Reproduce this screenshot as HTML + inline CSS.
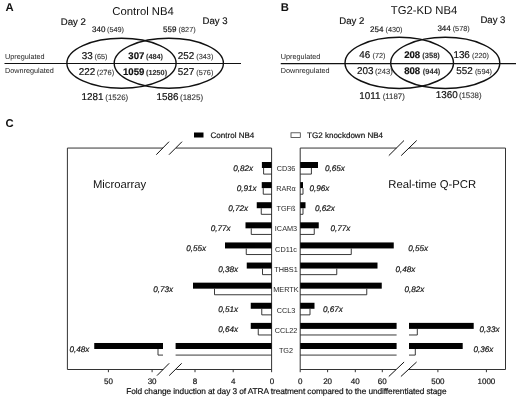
<!DOCTYPE html>
<html lang="en"><head><meta charset="utf-8"><title>Figure</title>
<style>
html,body{margin:0;padding:0;background:#fff;}
svg{display:block;will-change:transform;opacity:0.999;}
text{font-family:"Liberation Sans", Arial, sans-serif;fill:#111;stroke:#111;stroke-width:0.18px;text-rendering:geometricPrecision;}
.b{font-weight:bold;}
.i{font-style:italic;font-size:8.15px;}
.g{font-size:7.3px;fill:#262626;stroke:none;text-anchor:middle;}
.t{font-size:8px;text-anchor:middle;}
.n{font-size:9.2px;}
.s{font-size:7.3px;fill:#333;stroke:#333;stroke-width:0.1px;}
.ln{stroke:#333;stroke-width:1;fill:none;}
.wb{stroke:#3a3a3a;stroke-width:0.8;fill:#fff;}
.sl{stroke:#111;stroke-width:1;fill:none;}
.wbar{stroke:#222;stroke-width:0.9;fill:none;}
.el{stroke:#111;stroke-width:1.4;fill:none;}
</style></head>
<body>
<svg width="520" height="402" viewBox="0 0 520 402">
<rect width="520" height="402" fill="#fff"/>
<text x="5.5" y="10.5" class="b" font-size="11.3" style="stroke:none">A</text>
<text x="112.3" y="14.8" font-size="11.3" style="stroke:none">Control NB4</text>
<text x="60.75" y="24.5" font-size="9.6">Day 2</text>
<text x="202.5" y="24.3" font-size="9.6">Day 3</text>
<text x="92" y="32" class="n" style="font-size:8.0px">340</text>
<text x="107" y="32" class="s" style="font-size:7.3px">(549)</text>
<text x="163" y="32.2" class="n" style="font-size:8.0px">559</text>
<text x="178.6" y="32.2" class="s" style="font-size:7.3px">(827)</text>
<line x1="4.5" y1="63.5" x2="241" y2="63.5" stroke="#111" stroke-width="1.1"/>
<ellipse cx="121.5" cy="63.2" rx="54.6" ry="25" class="el"/>
<ellipse cx="168.8" cy="63.2" rx="54.6" ry="25" class="el"/>
<text x="5" y="58.8" font-size="7.25" style="stroke:none;fill:#222">Upregulated</text>
<text x="5" y="72.5" font-size="7.25" style="stroke:none;fill:#222">Downregulated</text>
<text x="81.75" y="58.8" class="n" style="font-size:9.9px">33</text>
<text x="94.5" y="58.8" class="s" style="font-size:7.3px">(65)</text>
<text x="78.75" y="74.5" class="n" style="font-size:9.9px">222</text>
<text x="96.7" y="74.5" class="s" style="font-size:7.5px">(276)</text>
<text x="128.3" y="58.5" class="n b" style="font-size:9.6px">307</text>
<text x="146" y="58.5" class="s b" style="font-size:7.3px">(484)</text>
<text x="123" y="74.8" class="n b" style="font-size:9.6px">1059</text>
<text x="146" y="74.8" class="s b" style="font-size:7.3px">(1250)</text>
<text x="177.8" y="58.5" class="n" style="font-size:9.9px">252</text>
<text x="196.3" y="58.5" class="s" style="font-size:7.3px">(343)</text>
<text x="177.8" y="74.8" class="n" style="font-size:9.9px">527</text>
<text x="196.3" y="74.8" class="s" style="font-size:7.3px">(576)</text>
<text x="81.6" y="99.8" class="n" style="font-size:9.9px">1281</text>
<text x="105.3" y="99.8" class="s" style="font-size:7.95px">(1526)</text>
<text x="156.5" y="99.8" class="n" style="font-size:9.9px">1586</text>
<text x="180" y="99.8" class="s" style="font-size:8.0px">(1825)</text>
<text x="280.75" y="10.5" class="b" font-size="11.3" style="stroke:none">B</text>
<text x="390.8" y="14.2" font-size="11.3" style="stroke:none">TG2-KD NB4</text>
<text x="339.25" y="23.6" font-size="9.6">Day 2</text>
<text x="480.4" y="23.3" font-size="9.6">Day 3</text>
<text x="370" y="31.5" class="n" style="font-size:8.0px">254</text>
<text x="385.5" y="31.5" class="s" style="font-size:7.3px">(430)</text>
<text x="437.4" y="31.2" class="n" style="font-size:8.0px">344</text>
<text x="452.7" y="31.2" class="s" style="font-size:7.3px">(578)</text>
<line x1="280.75" y1="63.6" x2="516" y2="63.6" stroke="#111" stroke-width="1.1"/>
<ellipse cx="399.25" cy="62.9" rx="54.25" ry="25.6" class="el"/>
<ellipse cx="445.25" cy="62.9" rx="54.55" ry="25.6" class="el"/>
<text x="280.75" y="59.2" font-size="7.25" style="stroke:none;fill:#222">Upregulated</text>
<text x="280.75" y="72.5" font-size="7.25" style="stroke:none;fill:#222">Downregulated</text>
<text x="359.25" y="58" class="n" style="font-size:9.9px">46</text>
<text x="372.5" y="58" class="s" style="font-size:7.3px">(72)</text>
<text x="357" y="73.75" class="n" style="font-size:9.9px">203</text>
<text x="375.0" y="73.75" class="s" style="font-size:7.6px">(243)</text>
<text x="404.2" y="57.9" class="n b" style="font-size:9.6px">208</text>
<text x="422.3" y="57.9" class="s b" style="font-size:7.5px">(358)</text>
<text x="404.2" y="73.5" class="n b" style="font-size:9.6px">808</text>
<text x="422.8" y="73.5" class="s b" style="font-size:7.5px">(944)</text>
<text x="453.4" y="57.9" class="n" style="font-size:9.9px">136</text>
<text x="472" y="57.9" class="s" style="font-size:7.3px">(220)</text>
<text x="456.2" y="73.5" class="n" style="font-size:9.9px">552</text>
<text x="474.9" y="73.5" class="s" style="font-size:7.3px">(594)</text>
<text x="359.25" y="98.5" class="n" style="font-size:9.9px">1011</text>
<text x="382.7" y="98.5" class="s" style="font-size:7.85px">(1187)</text>
<text x="435.7" y="98.3" class="n" style="font-size:9.9px">1360</text>
<text x="458.9" y="98.3" class="s" style="font-size:7.85px">(1538)</text>
<text x="5.5" y="127" class="b" font-size="11.3" style="stroke:none">C</text>
<rect x="194" y="132.5" width="9.5" height="5" fill="#000"/>
<text x="210.5" y="137.6" font-size="8.05">Control NB4</text>
<rect x="291" y="132.8" width="9.3" height="4.6" class="wb"/>
<text x="307" y="137.6" font-size="8.05">TG2 knockdown NB4</text>
<text x="93" y="188" font-size="11.25" style="stroke:none">Microarray</text>
<text x="388.3" y="188" font-size="11.3" style="stroke:none">Real-time Q-PCR</text>
<line x1="67.4" y1="148.05" x2="163" y2="148.05" class="ln"/>
<line x1="176" y1="148.05" x2="271.6" y2="148.05" class="ln"/>
<line x1="67.4" y1="148.05" x2="67.4" y2="369.5" class="ln"/>
<line x1="67.4" y1="369.5" x2="163.3" y2="369.5" class="ln"/>
<line x1="176.3" y1="369.5" x2="271.6" y2="369.5" class="ln"/>
<line x1="271.6" y1="148.05" x2="271.6" y2="372.2" class="ln"/>
<line x1="300.2" y1="148.05" x2="396.5" y2="148.05" class="ln"/>
<line x1="409" y1="148.05" x2="505.5" y2="148.05" class="ln"/>
<line x1="300.2" y1="148.05" x2="300.2" y2="372.2" class="ln"/>
<line x1="300.2" y1="369.5" x2="396" y2="369.5" class="ln"/>
<line x1="409" y1="369.5" x2="505.5" y2="369.5" class="ln"/>
<line x1="505.5" y1="148.05" x2="505.5" y2="369.5" class="ln"/>
<line x1="156.3" y1="154.7" x2="169" y2="141.7" class="sl"/>
<line x1="169" y1="154.7" x2="182" y2="141.7" class="sl"/>
<line x1="157" y1="375.6" x2="169.2" y2="363.3" class="sl"/>
<line x1="169.2" y1="375.6" x2="181.7" y2="363.3" class="sl"/>
<line x1="388.8" y1="155.6" x2="404.0" y2="140.5" class="sl"/>
<line x1="401.2" y1="155.6" x2="416.7" y2="140.5" class="sl"/>
<line x1="388.8" y1="376.5" x2="404.1" y2="362" class="sl"/>
<line x1="400.9" y1="376.5" x2="416.6" y2="362" class="sl"/>
<line x1="108.4" y1="369.5" x2="108.4" y2="372.2" class="ln"/>
<text x="108.4" y="383.6" class="t">50</text>
<line x1="152.1" y1="369.5" x2="152.1" y2="372.2" class="ln"/>
<text x="152.1" y="383.6" class="t">30</text>
<line x1="195" y1="369.5" x2="195" y2="372.2" class="ln"/>
<text x="195" y="383.6" class="t">8</text>
<line x1="233.2" y1="369.5" x2="233.2" y2="372.2" class="ln"/>
<text x="233.2" y="383.6" class="t">4</text>
<text x="272" y="383.6" class="t">0</text>
<text x="300.2" y="383.6" class="t">0</text>
<line x1="327.6" y1="369.5" x2="327.6" y2="372.2" class="ln"/>
<text x="327.6" y="383.6" class="t">20</text>
<line x1="355.3" y1="369.5" x2="355.3" y2="372.2" class="ln"/>
<text x="355.3" y="383.6" class="t">40</text>
<line x1="382.3" y1="369.5" x2="382.3" y2="372.2" class="ln"/>
<text x="382.3" y="383.6" class="t">60</text>
<line x1="437.9" y1="369.5" x2="437.9" y2="372.2" class="ln"/>
<text x="437.9" y="383.6" class="t">500</text>
<line x1="486.4" y1="369.5" x2="486.4" y2="372.2" class="ln"/>
<text x="486.4" y="383.6" class="t">1000</text>
<text x="126.2" y="394.2" font-size="8.3" textLength="320.3" lengthAdjust="spacing">Fold change induction at day 3 of ATRA treatment compared to the undifferentiated stage</text>
<rect x="261.90" y="162.00" width="9.70" height="6.00" fill="#000"/>
<path class="wbar" d="M263.60 168.00 V174.10 H271.60"/>
<rect x="300.20" y="162.00" width="17.80" height="6.00" fill="#000"/>
<path class="wbar" d="M311.40 168.00 V174.10 H300.20"/>
<text x="286" y="170.5" class="g">CD36</text>
<text x="233.25" y="170.9" class="i">0,82x</text>
<text x="325" y="170.9" class="i">0,65x</text>
<rect x="261.75" y="182.11" width="9.85" height="6.00" fill="#000"/>
<path class="wbar" d="M263.25 188.11 V194.21 H271.60"/>
<rect x="300.20" y="182.11" width="2.80" height="6.00" fill="#000"/>
<path class="wbar" d="M303.00 188.11 V194.21 H300.20"/>
<text x="286" y="190.79" class="g">RARα</text>
<text x="236.75" y="191.02" class="i">0,91x</text>
<text x="309.5" y="191.02" class="i">0,96x</text>
<rect x="256.75" y="202.22" width="14.85" height="6.00" fill="#000"/>
<path class="wbar" d="M261.25 208.22 V214.32 H271.60"/>
<rect x="300.20" y="202.22" width="5.30" height="6.00" fill="#000"/>
<path class="wbar" d="M303.00 208.22 V214.32 H300.20"/>
<text x="286" y="211.08" class="g">TGFß</text>
<text x="228.25" y="211.14" class="i">0,72x</text>
<text x="315" y="211.14" class="i">0,62x</text>
<rect x="245.50" y="222.33" width="26.10" height="6.00" fill="#000"/>
<path class="wbar" d="M251.25 228.33 V234.43 H271.60"/>
<rect x="300.20" y="222.33" width="18.55" height="6.00" fill="#000"/>
<path class="wbar" d="M314.25 228.33 V234.43 H300.20"/>
<text x="286" y="231.37" class="g">ICAM3</text>
<text x="210.75" y="231.26" class="i">0,77x</text>
<text x="330.5" y="231.26" class="i">0,77x</text>
<rect x="225.00" y="242.44" width="46.60" height="6.00" fill="#000"/>
<path class="wbar" d="M246.25 248.44 V254.54 H271.60"/>
<rect x="300.20" y="242.44" width="93.55" height="6.00" fill="#000"/>
<path class="wbar" d="M351.25 248.44 V254.54 H300.20"/>
<text x="286" y="251.66" class="g">CD11c</text>
<text x="186.25" y="251.38" class="i">0,55x</text>
<text x="408.25" y="251.38" class="i">0,55x</text>
<rect x="246.75" y="262.55" width="24.85" height="6.00" fill="#000"/>
<path class="wbar" d="M262.50 268.55 V274.65 H271.60"/>
<rect x="300.20" y="262.55" width="77.30" height="6.00" fill="#000"/>
<path class="wbar" d="M336.75 268.55 V274.65 H300.20"/>
<text x="286" y="271.95" class="g">THBS1</text>
<text x="218.25" y="271.5" class="i">0,38x</text>
<text x="395.5" y="271.5" class="i">0,48x</text>
<rect x="193.00" y="282.66" width="78.60" height="6.00" fill="#000"/>
<path class="wbar" d="M214.50 288.66 V294.76 H271.60"/>
<rect x="300.20" y="282.66" width="81.55" height="6.00" fill="#000"/>
<path class="wbar" d="M366.75 288.66 V294.76 H300.20"/>
<text x="286" y="292.24" class="g">MERTK</text>
<text x="153.25" y="291.62" class="i">0,73x</text>
<text x="404.5" y="291.62" class="i">0,82x</text>
<rect x="250.75" y="302.77" width="20.85" height="6.00" fill="#000"/>
<path class="wbar" d="M261.75 308.77 V314.87 H271.60"/>
<rect x="300.20" y="302.77" width="14.30" height="6.00" fill="#000"/>
<path class="wbar" d="M310.00 308.77 V314.87 H300.20"/>
<text x="286" y="312.53" class="g">CCL3</text>
<text x="218.25" y="311.74" class="i">0,51x</text>
<text x="323" y="311.74" class="i">0,67x</text>
<rect x="250.75" y="322.88" width="20.85" height="6.00" fill="#000"/>
<path class="wbar" d="M258.25 328.88 V334.98 H271.60"/>
<text x="286" y="332.82" class="g">CCL22</text>
<text x="218.25" y="331.86" class="i">0,64x</text>
<text x="479.6" y="331.86" class="i">0,33x</text>
<text x="286" y="353.11" class="g">TG2</text>
<text x="69.5" y="351.98" class="i">0,48x</text>
<text x="473.4" y="351.98" class="i">0,36x</text>
<rect x="94.25" y="342.99" width="68.75" height="6.00" fill="#000"/>
<rect x="175.60" y="342.99" width="96.00" height="6.00" fill="#000"/>
<path class="wbar" d="M158 348.99 V355.09 H163 M175.6 355.09 H271.6"/>
<rect x="300.20" y="322.88" width="96.40" height="6.00" fill="#000"/>
<rect x="409.00" y="322.88" width="64.70" height="6.00" fill="#000"/>
<path class="wbar" d="M300.2 334.98 H396.6 M409 334.98 H417.30 V328.88"/>
<rect x="300.20" y="342.99" width="96.40" height="6.00" fill="#000"/>
<rect x="409.00" y="342.99" width="53.70" height="6.00" fill="#000"/>
<path class="wbar" d="M300.2 355.09 H396.6 M409 355.09 H415.30 V348.99"/>
</svg>
</body></html>
